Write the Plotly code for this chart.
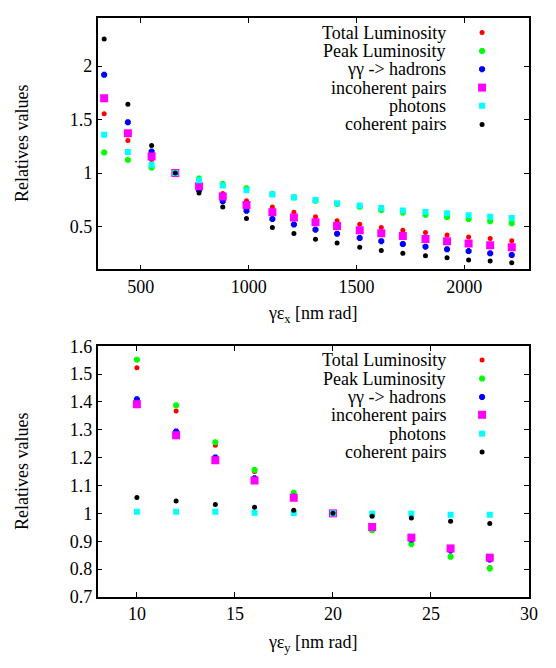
import plotly.graph_objects as go

# ---------------- data ----------------
series_names = ["Total Luminosity", "Peak Luminosity", "γγ -> hadrons",
                "incoherent pairs", "photons", "coherent pairs"]

gex = [330, 440, 550, 660, 770, 880, 990, 1110, 1210, 1310, 1410, 1515,
       1615, 1715, 1820, 1920, 2020, 2120, 2220]
top_total = [1.556, 1.304, 1.126, 1.0, 0.89, 0.81, 0.741, 0.682, 0.633, 0.592,
             0.555, 0.522, 0.492, 0.465, 0.444, 0.420, 0.402, 0.387, 0.366]
top_peak = [1.192, 1.124, 1.051, 1.0, 0.949, 0.898, 0.858, 0.804, 0.775, 0.741,
            0.711, 0.684, 0.654, 0.630, 0.610, 0.588, 0.570, 0.549, 0.531]
top_hadr = [1.92, 1.475, 1.201, 1.0, 0.84, 0.736, 0.648, 0.570, 0.519, 0.471,
            0.432, 0.393, 0.363, 0.336, 0.312, 0.288, 0.270, 0.249, 0.234]
top_incoh = [1.70, 1.372, 1.156, 1.0, 0.877, 0.781, 0.702, 0.633, 0.585, 0.54,
             0.504, 0.465, 0.438, 0.411, 0.384, 0.362, 0.342, 0.324, 0.306]
top_phot = [1.358, 1.196, 1.078, 1.0, 0.934, 0.883, 0.84, 0.80, 0.772, 0.748,
            0.718, 0.696, 0.673, 0.651, 0.637, 0.624, 0.606, 0.592, 0.579]
top_coh = [2.253, 1.643, 1.259, 1.0, 0.813, 0.682, 0.576, 0.492, 0.435, 0.381,
           0.345, 0.306, 0.276, 0.249, 0.227, 0.207, 0.188, 0.177, 0.161]

gey = [10, 12, 14, 16, 18, 20, 22, 24, 26, 28]
bot_total = [1.523, 1.368, 1.245, 1.150, 1.068, 1.0, 0.942, 0.892, 0.846, 0.806]
bot_peak = [1.552, 1.388, 1.255, 1.156, 1.074, 1.0, 0.939, 0.890, 0.844, 0.802]
bot_hadr = [1.410, 1.294, 1.201, 1.126, 1.060, 1.0, 0.948, 0.906, 0.867, 0.834]
bot_incoh = [1.392, 1.281, 1.191, 1.118, 1.056, 1.0, 0.951, 0.913, 0.874, 0.841]
bot_phot = [1.006, 1.006, 1.006, 1.002, 1.001, 1.0, 0.999, 0.999, 0.995, 0.995]
bot_coh = [1.057, 1.044, 1.032, 1.022, 1.011, 1.0, 0.990, 0.983, 0.972, 0.964]

top_ticks = [500, 1000, 1500, 2000]
top_yticks = [0.5, 1, 1.5, 2]
bot_xticks = [10, 15, 20, 25, 30]
bot_yticks = [0.7, 0.8, 0.9, 1.0, 1.1, 1.2, 1.3, 1.4, 1.5, 1.6]

# ---------------- styles ----------------
W, H = 556, 668
FONT = "Liberation Serif, DejaVu Serif, serif"
FS = 18
styles = [
    dict(symbol="circle", size=5, color="#ff0000"),
    dict(symbol="asterisk-open", size=5, color="#00ff00", line=dict(width=3, color="#00ff00")),
    dict(symbol="asterisk-open", size=5, color="#0000ff", line=dict(width=3, color="#0000ff")),
    dict(symbol="square", size=8, color="#ff00ff"),
    dict(symbol="square", size=6, color="#00ffff"),
    dict(symbol="circle", size=5, color="#000000"),
]

fig = go.Figure()
top_data = [top_total, top_peak, top_hadr, top_incoh, top_phot, top_coh]
bot_data = [bot_total, bot_peak, bot_hadr, bot_incoh, bot_phot, bot_coh]
for name, st, ys in zip(series_names, styles, top_data):
    fig.add_trace(go.Scatter(x=gex, y=ys, mode="markers", marker=st, name=name,
                             showlegend=False, xaxis="x", yaxis="y"))
for name, st, ys in zip(series_names, styles, bot_data):
    fig.add_trace(go.Scatter(x=gey, y=ys, mode="markers", marker=st, name=name,
                             showlegend=False, xaxis="x2", yaxis="y2"))

# legend keys (drawn on an overlay pixel axis)
legend_rows_top = [23.3, 42.3, 61, 80, 98.7, 118]
legend_rows_bot = [360.7, 380, 399, 417.3, 436.7, 455.7]
key_x = 490
text_x = 455
annotations = []
for rows in (legend_rows_top, legend_rows_bot):
    for name, st, ry in zip(series_names, styles, rows):
        fig.add_trace(go.Scatter(x=[key_x], y=[ry], mode="markers", marker=st,
                                 showlegend=False, xaxis="x3", yaxis="y3",
                                 hoverinfo="skip"))
        annotations.append(dict(x=text_x / W, y=1 - ry / H, xref="paper", yref="paper",
                                text=name, showarrow=False, xanchor="right",
                                yanchor="middle", font=dict(family=FONT, size=FS, color="black")))

L, R = 99.3 / W, 537.7 / W
top_dom = [1 - 267.3 / H, 1 - 8.3 / H]
bot_dom = [1 - 605 / H, 1 - 346.7 / H]

axis_common = dict(showgrid=False, zeroline=False, showline=True, linecolor="black",
                   linewidth=1.5, mirror="allticks", ticks="inside", ticklen=5,
                   tickcolor="black", tickfont=dict(family=FONT, size=FS, color="black"))

# axis titles as annotations
annotations += [
    dict(x=318.5 / W, y=1 - 314 / H, xref="paper", yref="paper", showarrow=False,
         text="γε<sub>x</sub> [nm rad]", font=dict(family=FONT, size=FS, color="black"),
         xanchor="center", yanchor="middle"),
    dict(x=318.5 / W, y=1 - 653 / H, xref="paper", yref="paper", showarrow=False,
         text="γε<sub>y</sub> [nm rad]", font=dict(family=FONT, size=FS, color="black"),
         xanchor="center", yanchor="middle"),
    dict(x=22.5 / W, y=1 - 138 / H, xref="paper", yref="paper", showarrow=False,
         text="Relatives values", textangle=-90, font=dict(family=FONT, size=FS, color="black"),
         xanchor="center", yanchor="middle"),
    dict(x=22.5 / W, y=1 - 476 / H, xref="paper", yref="paper", showarrow=False,
         text="Relatives values", textangle=-90, font=dict(family=FONT, size=FS, color="black"),
         xanchor="center", yanchor="middle"),
]

fig.update_layout(
    width=W, height=H, margin=dict(l=0, r=0, t=0, b=0),
    paper_bgcolor="white", plot_bgcolor="rgba(0,0,0,0)",
    showlegend=False,
    font=dict(family=FONT, size=FS, color="black"),
    xaxis=dict(domain=[L, R], range=[300, 2300], tickvals=top_ticks, anchor="y", **axis_common),
    yaxis=dict(domain=top_dom, range=[0.1, 2.45], tickvals=top_yticks, anchor="x", **axis_common),
    xaxis2=dict(domain=[L, R], range=[8, 30], tickvals=bot_xticks, anchor="y2", **axis_common),
    yaxis2=dict(domain=bot_dom, range=[0.7, 1.6], tickvals=bot_yticks, anchor="x2",
                ticktext=[f"{v:g}" for v in bot_yticks], **axis_common),
    xaxis3=dict(domain=[0, 1], range=[0, W], visible=False, anchor="y3"),
    yaxis3=dict(domain=[0, 1], range=[H, 0], visible=False, anchor="x3"),
    annotations=annotations,
)

fig.write_html("out.html",
               post_script="document.body.style.margin='0';document.body.style.overflow='hidden';")
